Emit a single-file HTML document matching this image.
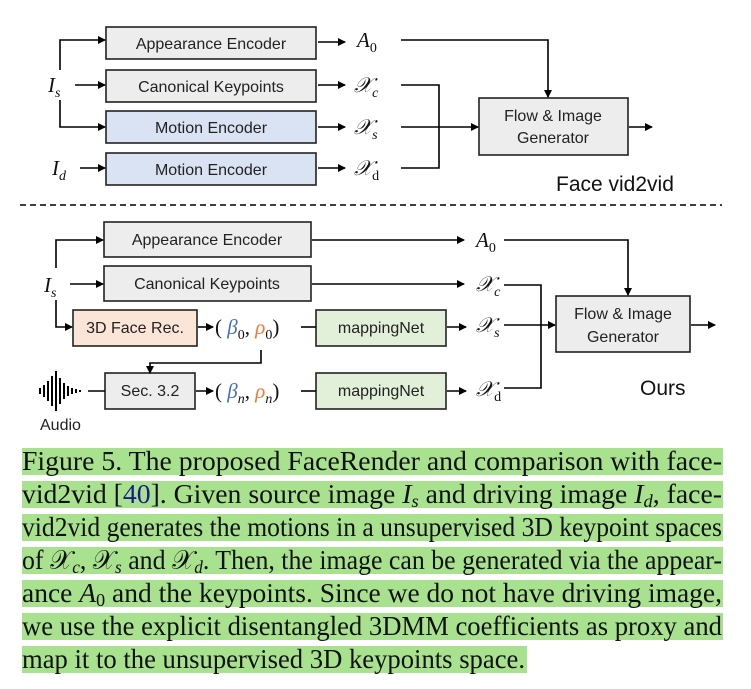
<!DOCTYPE html>
<html><head><meta charset="utf-8"><style>
html,body{margin:0;padding:0;background:#fff;width:751px;height:689px;overflow:hidden}
svg{display:block}
.b{font-family:"Liberation Sans",sans-serif;font-size:16px;fill:#222}
.m{font-family:"Liberation Serif",serif;font-style:italic;font-size:21px;fill:#111}
.s{font-family:"Liberation Serif",serif;font-size:14px;fill:#111}
.c{font-family:"Liberation Serif",serif;font-size:27px;fill:#111}
</style></head><body>
<svg width="751" height="689" viewBox="0 0 751 689" xmlns="http://www.w3.org/2000/svg">
<defs><marker id="a" markerWidth="8" markerHeight="8" refX="7" refY="4" orient="auto" markerUnits="userSpaceOnUse"><path d="M0,0 L8,4 L0,8z" fill="#000"/></marker></defs>
<g stroke="#000" stroke-width="1.6" fill="none">
<rect x="106" y="27" width="210" height="32" fill="#ededed" stroke="#222"/>
<rect x="106" y="70" width="210" height="32" fill="#ededed" stroke="#222"/>
<rect x="106" y="111" width="210" height="32" fill="#dae3f3" stroke="#222"/>
<rect x="106" y="153" width="210" height="32" fill="#dae3f3" stroke="#222"/>
<rect x="479" y="98" width="149" height="57" fill="#ededed" stroke="#222"/>
<path d="M60,70 V40 H105" marker-end="url(#a)"/>
<path d="M75,85 H105" marker-end="url(#a)"/>
<path d="M60,100 V127 H105" marker-end="url(#a)"/>
<path d="M80,168 H105" marker-end="url(#a)"/>
<path d="M318,42 H345" marker-end="url(#a)"/>
<path d="M318,85 H345" marker-end="url(#a)"/>
<path d="M318,127 H345" marker-end="url(#a)"/>
<path d="M318,168 H345" marker-end="url(#a)"/>
<path d="M401,40 H548 V97" marker-end="url(#a)"/>
<path d="M401,85 H439 V168 H401"/>
<path d="M401,127 H478" marker-end="url(#a)"/>
<path d="M629,127 H652" marker-end="url(#a)"/>
<path d="M20,205 H722" stroke-dasharray="6,4" stroke-width="1.4"/>
<rect x="104" y="222" width="207" height="35" fill="#ededed" stroke="#222"/>
<rect x="104" y="266" width="207" height="35" fill="#ededed" stroke="#222"/>
<rect x="73" y="310" width="124" height="36" fill="#fbe5d6" stroke="#222"/>
<rect x="316" y="310" width="130" height="36" fill="#e2f0d9" stroke="#222"/>
<rect x="105" y="373" width="90" height="36" fill="#ededed" stroke="#222"/>
<rect x="316" y="373" width="130" height="36" fill="#e2f0d9" stroke="#222"/>
<rect x="556" y="296" width="134" height="56" fill="#ededed" stroke="#222"/>
<path d="M56,268 V240 H103" marker-end="url(#a)"/>
<path d="M70,284 H103" marker-end="url(#a)"/>
<path d="M56,300 V327 H72" marker-end="url(#a)"/>
<path d="M312,240 H464" marker-end="url(#a)"/>
<path d="M312,284 H464" marker-end="url(#a)"/>
<path d="M198,327 H213" marker-end="url(#a)"/>
<path d="M301,327 H316"/>
<path d="M447,327 H466" marker-end="url(#a)"/>
<path d="M261,350 V363 H150 V373" marker-end="url(#a)"/>
<path d="M88,391 H105"/>
<path d="M196,391 H213" marker-end="url(#a)"/>
<path d="M301,391 H316"/>
<path d="M447,391 H466" marker-end="url(#a)"/>
<path d="M504,240 H628 V295" marker-end="url(#a)"/>
<path d="M504,285 H541 V388 H504"/>
<path d="M504,325 H555" marker-end="url(#a)"/>
<path d="M691,325 H715" marker-end="url(#a)"/>
<g stroke-width="2">
<path d="M40,388 V394 M44,385 V397 M48,381 V401 M52,376 V406 M56,371 V411 M60,378 V404 M64,383 V399 M68,386 V396 M72,388 V394 M76,389 V393 M80,390 V392"/>
</g>
</g>
<text class="b" x="211" y="49" text-anchor="middle">Appearance Encoder</text>
<text class="b" x="211" y="92" text-anchor="middle">Canonical  Keypoints</text>
<text class="b" x="211" y="133" text-anchor="middle">Motion Encoder</text>
<text class="b" x="211" y="175" text-anchor="middle">Motion Encoder</text>
<text class="b" x="553" y="121" text-anchor="middle">Flow &amp; Image</text>
<text class="b" x="553" y="143" text-anchor="middle">Generator</text>
<text class="m" x="48" y="92">I<tspan class="s" dy="5">s</tspan></text>
<text class="m" x="52" y="175">I<tspan class="s" dy="5">d</tspan></text>
<text class="m" x="357" y="47">A<tspan class="s" font-style="normal" dy="5">0</tspan></text>
<text class="m" x="354" y="92">𝒳<tspan class="s" dy="5">c</tspan></text>
<text class="m" x="354" y="134">𝒳<tspan class="s" dy="5">s</tspan></text>
<text class="m" x="354" y="175">𝒳<tspan class="s" font-style="normal" dy="5">d</tspan></text>
<text x="556" y="191" font-family="Liberation Sans,sans-serif" font-size="21" fill="#111">Face vid2vid</text>
<text class="b" x="207" y="245" text-anchor="middle">Appearance Encoder</text>
<text class="b" x="207" y="289" text-anchor="middle">Canonical  Keypoints</text>
<text class="b" x="135" y="333" text-anchor="middle">3D Face Rec.</text>
<text class="b" x="381" y="333" text-anchor="middle">mappingNet</text>
<text class="b" x="150" y="396" text-anchor="middle">Sec. 3.2</text>
<text class="b" x="381" y="396" text-anchor="middle">mappingNet</text>
<text class="b" x="623" y="319" text-anchor="middle">Flow &amp; Image</text>
<text class="b" x="623" y="342" text-anchor="middle">Generator</text>
<text class="b" x="40" y="430">Audio</text>
<text x="640" y="395" font-family="Liberation Sans,sans-serif" font-size="21" fill="#111">Ours</text>
<text class="m" x="44" y="292">I<tspan class="s" dy="5">s</tspan></text>
<text class="m" x="476" y="247">A<tspan class="s" font-style="normal" dy="5">0</tspan></text>
<text class="m" x="476" y="291">𝒳<tspan class="s" dy="5">c</tspan></text>
<text class="m" x="476" y="332">𝒳<tspan class="s" dy="5">s</tspan></text>
<text class="m" x="476" y="396">𝒳<tspan class="s" font-style="normal" dy="5">d</tspan></text>
<text class="m" x="215" y="334"><tspan font-style="normal">(</tspan> <tspan fill="#4472c4">β<tspan class="s" font-style="normal" fill="#4472c4" dy="5">0</tspan></tspan><tspan dy="-5" font-style="normal">,</tspan> <tspan fill="#ed7d31">ρ<tspan class="s" font-style="normal" fill="#ed7d31" dy="5">0</tspan></tspan><tspan dy="-5" font-style="normal">)</tspan></text>
<text class="m" x="215" y="398"><tspan font-style="normal">(</tspan> <tspan fill="#4472c4">β<tspan class="s" fill="#4472c4" dy="5">n</tspan></tspan><tspan dy="-5" font-style="normal">,</tspan> <tspan fill="#ed7d31">ρ<tspan class="s" fill="#ed7d31" dy="5">n</tspan></tspan><tspan dy="-5" font-style="normal">)</tspan></text>
<g fill="#a9e28f">
<rect x="22" y="448" width="701" height="27"/>
<rect x="22" y="481" width="701" height="27"/>
<rect x="22" y="514" width="701" height="27"/>
<rect x="22" y="547" width="701" height="27"/>
<rect x="22" y="580" width="701" height="27"/>
<rect x="22" y="613" width="701" height="27"/>
<rect x="22" y="646" width="505" height="27"/>
</g>
<text class="c" x="22" y="470" textLength="700" lengthAdjust="spacingAndGlyphs">Figure 5. The proposed FaceRender and comparison with face-</text>
<text class="c" x="22" y="503" textLength="700" lengthAdjust="spacingAndGlyphs">vid2vid [<tspan fill="#1a1a8c">40</tspan>]. Given source image <tspan font-style="italic">I<tspan font-size="18" dy="4">s</tspan></tspan><tspan dy="-4"> and driving image </tspan><tspan font-style="italic">I<tspan font-size="18" dy="4">d</tspan></tspan><tspan dy="-4">, face-</tspan></text>
<text class="c" x="22" y="536" textLength="700" lengthAdjust="spacingAndGlyphs">vid2vid generates the motions in a unsupervised 3D keypoint spaces</text>
<text class="c" x="22" y="569" textLength="700" lengthAdjust="spacingAndGlyphs">of 𝒳<tspan font-size="18" font-style="italic" dy="4">c</tspan><tspan dy="-4">, 𝒳</tspan><tspan font-size="18" font-style="italic" dy="4">s</tspan><tspan dy="-4"> and 𝒳</tspan><tspan font-size="18" font-style="italic" dy="4">d</tspan><tspan dy="-4">. Then, the image can be generated via the appear-</tspan></text>
<text class="c" x="22" y="602" textLength="700" lengthAdjust="spacingAndGlyphs">ance <tspan font-style="italic">A</tspan><tspan font-size="18" dy="4">0</tspan><tspan dy="-4"> and the keypoints. Since we do not have driving image,</tspan></text>
<text class="c" x="22" y="635" textLength="700" lengthAdjust="spacingAndGlyphs">we use the explicit disentangled 3DMM coefficients as proxy and</text>
<text class="c" x="22" y="668" textLength="503" lengthAdjust="spacingAndGlyphs">map it to the unsupervised 3D keypoints space.</text>
</svg>
</body></html>
